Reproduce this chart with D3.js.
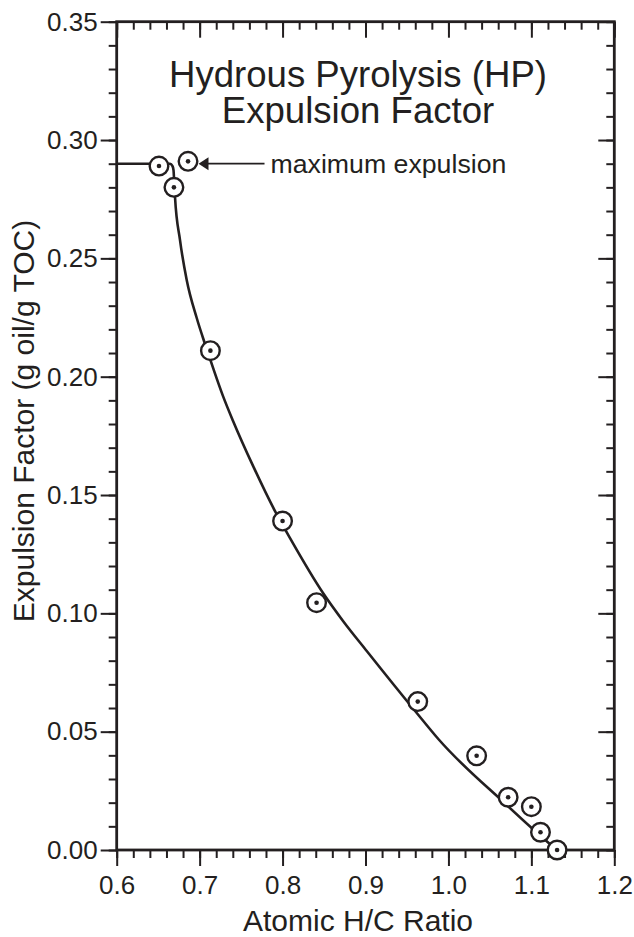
<!DOCTYPE html>
<html>
<head>
<meta charset="utf-8">
<script src="https://cdn.jsdelivr.net/npm/d3@7"></script>
<style>
  body { margin: 0; background: #fff; }
  svg { display: block; font-family: "Liberation Sans", Arial, sans-serif; }
  .axis text { font-size: 26px; fill: #231f20; }
  .axis line { stroke: #231f20; stroke-width: 2; }
  .axis path { display: none; }
</style>
</head>
<body>
<svg id="chart"></svg>
<script>
// measured samples (atomic H/C ratio vs expulsion factor)
const hcRatio = [0.651, 0.686, 0.669, 0.713, 0.800, 0.841, 0.963, 1.034, 1.072, 1.100, 1.111, 1.131];
const expulsion = [0.289, 0.291, 0.280, 0.211, 0.139, 0.1045, 0.0627, 0.0398, 0.0223, 0.0183, 0.0075, 0.000];

// fitted curve
const curveX = [0.600, 0.6643, 0.6673, 0.6685, 0.6691, 0.6703, 0.6763, 0.6844, 0.6965, 0.7065, 0.7162, 0.7282,
  0.7403, 0.7644, 0.7909, 0.8090, 0.8488, 0.8729, 0.9015, 0.9618, 0.9878, 1.0703, 1.1004, 1.1306];
const curveY = [0.290, 0.290, 0.2890, 0.2873, 0.2840, 0.2760, 0.2578, 0.2409, 0.2248, 0.2138, 0.2037, 0.1918,
  0.1813, 0.1623, 0.1432, 0.1318, 0.1086, 0.0968, 0.0841, 0.0579, 0.0469, 0.0190, 0.0093, 0.000];

const maxExpulsion = 0.29;
const xTicks = [0.6, 0.7, 0.8, 0.9, 1.0, 1.1, 1.2];
const yTicks = [0.00, 0.05, 0.10, 0.15, 0.20, 0.25, 0.30, 0.35];

const width = 634, height = 937;
const margin = { top: 21.7, right: 19.7, bottom: 87, left: 116.7 };
const innerWidth = width - margin.left - margin.right;
const innerHeight = height - margin.top - margin.bottom;

const svg = d3.select('#chart')
  .attr('width', width)
  .attr('height', height);

const xScale = d3.scaleLinear().domain([0.6, 1.2]).range([0, innerWidth]);
const yScale = d3.scaleLinear().domain([0, 0.35]).range([innerHeight, 0]);

const xMinor = d3.range(0.6, 1.2001, 0.02).map(v => +v.toFixed(2));
const yMinor = d3.range(0, 0.3501, 0.01).map(v => +v.toFixed(2));

const g = svg.append('g')
  .attr('transform', `translate(${margin.left}, ${margin.top})`);

// minor ticks on all four sides
g.append('g').attr('class', 'axis')
  .attr('transform', `translate(0, ${innerHeight})`)
  .call(d3.axisBottom(xScale).tickValues(xMinor).tickSize(8).tickFormat(''));
g.append('g').attr('class', 'axis')
  .call(d3.axisTop(xScale).tickValues(xMinor).tickSize(-8).tickFormat(''));
g.append('g').attr('class', 'axis')
  .call(d3.axisLeft(yScale).tickValues(yMinor).tickSize(8).tickFormat(''));
g.append('g').attr('class', 'axis')
  .attr('transform', `translate(${innerWidth}, 0)`)
  .call(d3.axisRight(yScale).tickValues(yMinor).tickSize(-8).tickFormat(''));

// major ticks
g.append('g').attr('class', 'axis')
  .attr('transform', `translate(0, ${innerHeight})`)
  .call(d3.axisBottom(xScale).tickValues(xTicks).tickSize(16).tickPadding(10).tickFormat(d3.format('.1f')));
g.append('g').attr('class', 'axis')
  .call(d3.axisTop(xScale).tickValues(xTicks).tickSize(-16).tickFormat(''));
g.append('g').attr('class', 'axis')
  .call(d3.axisLeft(yScale).tickValues(yTicks).tickSize(16).tickPadding(3).tickFormat(d3.format('.2f')));
g.append('g').attr('class', 'axis')
  .attr('transform', `translate(${innerWidth}, 0)`)
  .call(d3.axisRight(yScale).tickValues(yTicks).tickSize(-16).tickFormat(''));

// frame
g.append('rect')
  .attr('width', innerWidth)
  .attr('height', innerHeight)
  .attr('fill', 'none')
  .attr('stroke', '#231f20')
  .attr('stroke-width', 2.8);

// fitted curve
const line = d3.line()
  .x(d => xScale(d[0]))
  .y(d => yScale(d[1]))
  .curve(d3.curveMonotoneX);

g.append('path')
  .datum(d3.zip(curveX, curveY))
  .attr('d', line)
  .attr('fill', 'none')
  .attr('stroke', '#231f20')
  .attr('stroke-width', 2.6);

// sample markers: open circle with a dot
const pts = g.selectAll('.pt')
  .data(d3.zip(hcRatio, expulsion))
  .enter()
  .append('g')
  .attr('class', 'pt')
  .attr('transform', d => `translate(${xScale(d[0])}, ${yScale(d[1])})`);

pts.append('circle')
  .attr('r', 9.3)
  .attr('fill', '#fff')
  .attr('stroke', '#231f20')
  .attr('stroke-width', 2.4);
pts.append('circle')
  .attr('r', 2.3)
  .attr('fill', '#231f20');

// arrow to the maximum expulsion point
const tipX = xScale(hcRatio[1]) + 10.5;
const arrowY = yScale(maxExpulsion);
g.append('line')
  .attr('x1', tipX + 8)
  .attr('x2', tipX + 66)
  .attr('y1', arrowY)
  .attr('y2', arrowY)
  .attr('stroke', '#231f20')
  .attr('stroke-width', 1.8);
g.append('path')
  .attr('d', `M${tipX},${arrowY} L${tipX + 10},${arrowY - 6.5} L${tipX + 10},${arrowY + 6.5} Z`)
  .attr('fill', '#231f20');
g.append('text')
  .attr('x', tipX + 72)
  .attr('y', arrowY + 9.5)
  .attr('font-size', 26.7)
  .attr('fill', '#231f20')
  .text('maximum expulsion');

// title inside plot
const title = g.append('text')
  .attr('text-anchor', 'middle')
  .attr('font-size', 36.6)
  .attr('fill', '#231f20');
title.append('tspan')
  .attr('x', 358 - margin.left)
  .attr('y', 87 - margin.top)
  .text('Hydrous Pyrolysis (HP)');
title.append('tspan')
  .attr('x', 358 - margin.left)
  .attr('y', 123 - margin.top)
  .text('Expulsion Factor');

// axis titles
svg.append('text')
  .attr('x', 358)
  .attr('y', 931)
  .attr('text-anchor', 'middle')
  .attr('font-size', 30)
  .attr('fill', '#231f20')
  .text('Atomic H/C Ratio');

svg.append('text')
  .attr('transform', `translate(34, 421) rotate(-90)`)
  .attr('text-anchor', 'middle')
  .attr('font-size', 30)
  .attr('fill', '#231f20')
  .text('Expulsion Factor (g oil/g TOC)');
</script>
</body>
</html>
